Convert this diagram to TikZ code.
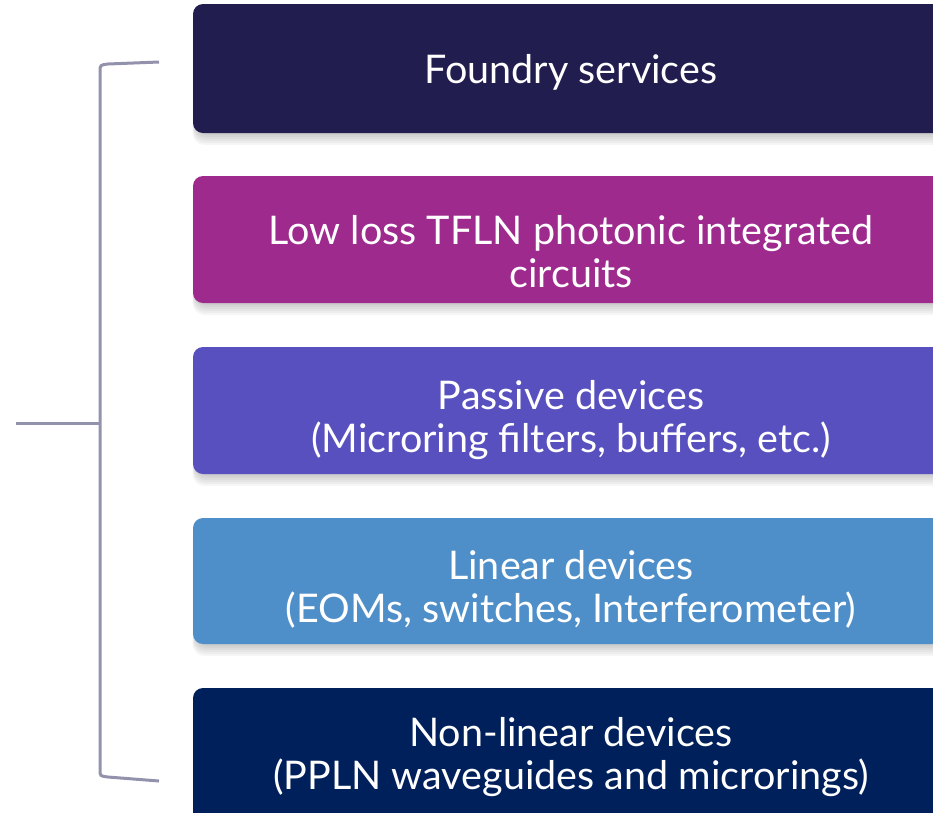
\documentclass[tikz,border=0pt]{standalone}
\usepackage{fontspec}
\setmainfont{Lato}
\definecolor{cA}{HTML}{211D4F}
\definecolor{cB}{HTML}{9E2A8E}
\definecolor{cC}{HTML}{5850BF}
\definecolor{cD}{HTML}{4F8FC9}
\definecolor{cE}{HTML}{00205B}
\definecolor{brk}{HTML}{9392AD}
\tikzset{
  box/.style={rectangle, rounded corners=10pt, anchor=north west, minimum width=770pt, inner sep=0pt, outer sep=0pt},
  shad/.style={fill=black, opacity=0.035, rounded corners=12pt},
  txt/.style={text=white, font=\fontsize{39.5}{43}\selectfont, align=center, inner sep=0pt},
  brace/.style={draw=brk, line width=3pt}
}
\begin{document}
\begin{tikzpicture}[x=1pt,y=-1pt]
\useasboundingbox (0,0) rectangle (933,812);
\clip (0,0) rectangle (933,812);
% shadows
\foreach \t/\b in {4/133,176/303,347/474,518/644,688/830}{
  \foreach \d in {2,4,6,8,10,12}{
    \fill[shad] (195-\d*0.2,\t+\d*0.5) rectangle (960,\b+\d);
  }
}
\node[box, fill=cA, minimum height=129pt] (b1) at (193,4) {};
\node[box, fill=cB, minimum height=127pt] (b2) at (193,176) {};
\node[box, fill=cC, minimum height=127pt] (b3) at (193,347) {};
\node[box, fill=cD, minimum height=126pt] (b4) at (193,518) {};
\node[box, fill=cE, minimum height=134pt] (b5) at (193,688) {};
\node[txt] (t1) at (571,72) {Foundry services};
\node[txt] (t2) at (571,252) {Low loss TFLN photonic integrated\\circuits};
\node[txt] (t3) at (571,420) {Passive devices\\(Microring filters, buffers, etc.)};
\node[txt] (t4) at (571,589) {Linear devices\\(EOMs, switches, Interferometer)};
\node[txt] (t5) at (571,757) {Non-linear devices\\(PPLN waveguides and microrings)};
% bracket
\coordinate (top) at (159,62);
\coordinate (bot) at (159,781);
\coordinate (mid) at (16,423);
\coordinate (spine) at (100,423);
\draw[brace] (top) -- (108,64) .. controls (100,65) .. (100,72) -- (100,770) .. controls (100,776) .. (108,777) -- (bot);
\draw[brace] (mid) -- (spine);
\end{tikzpicture}
\end{document}
